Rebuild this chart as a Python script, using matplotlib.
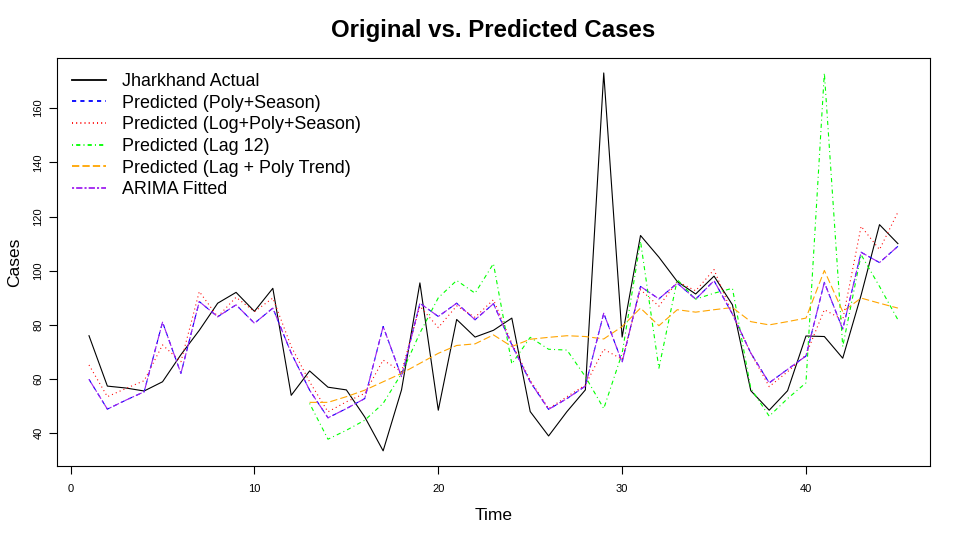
import numpy as np
import matplotlib
matplotlib.use('Agg')
import matplotlib.pyplot as plt

plt.rcParams['font.family'] = ['Liberation Sans', 'DejaVu Sans']
plt.rcParams['lines.scale_dashes'] = False

time = np.arange(1, 46)

actual = [76, 57.4, 56.7, 55.6, 59, 69, 78, 88, 92, 85, 93.5, 54, 63, 57, 56,
          46, 33.5, 56, 95.5, 48.5, 82, 75.5, 78, 82.5, 48, 39, 48, 56, 173,
          75.5, 113, 105, 96, 91.4, 98, 87.4, 55.7, 48.5, 55.7, 75.9, 75.7,
          67.7, 91, 117, 110]

poly_season = [59.9, 48.9, 52.2, 55.3, 81, 62.1, 88.6, 83, 87.4, 80.6, 86.2,
               69.6, 55.9, 45.7, 49.1, 52.8, 79.4, 60.9, 88, 83.1, 88, 81.9,
               87.8, 72.6, 59, 48.8, 52.8, 57.4, 84.3, 66.2, 94.2, 89.6, 95.4,
               89.5, 96.3, 84, 69.6, 58.6, 63.6, 68.5, 95.7, 78.4, 106.8, 103,
               109]

log_poly_season = [65.2, 53.5, 56.5, 59.4, 72.6, 66.4, 92.3, 83, 90.2, 84.9,
                   89.9, 72, 59, 47.9, 51.6, 54.7, 67, 62.7, 86.9, 79, 87,
                   82.8, 89.3, 73.2, 59.6, 49.1, 53.5, 57.8, 71, 67.3, 93,
                   86.9, 96, 92.6, 100.4, 84, 69.6, 57.2, 62.7, 68.9, 85.6,
                   81.9, 116.4, 107.8, 121.6]

lag12 = [np.nan] * 12 + [51, 37.8, 41.1, 44.8, 51, 62, 77, 90, 96.4, 91.7,
                         102.6, 65.6, 75.4, 71, 70.7, 60.9, 49.1, 69.5, 110.9,
                         64, 96.7, 89.5, 91.7, 93.5, 56.5, 46.3, 52.8, 58.6,
                         173, 72, 105.9, 94.2, 81.9]

lag_poly = [np.nan] * 12 + [51.4, 51.4, 53.5, 55.9, 59, 62.1, 65.8, 69.5,
                            72.4, 73, 76.3, 72, 74.7, 75.4, 76, 75.7, 74.8,
                            79.4, 86.2, 79.7, 85.6, 84.7, 85.6, 86.4, 81.2,
                            80, 81.2, 82.5, 100.1, 84.9, 89.9, 88, 86.2]

arima = [59.9, 48.9, 52.2, 55.3, 81, 62.1, 88.6, 83, 87.4, 80.6, 86.2, 69.6,
         55.9, 45.7, 49.1, 52.8, 79.4, 60.9, 88, 83.1, 88, 81.9, 87.8, 72.6,
         59, 48.8, 52.8, 57.4, 84.3, 66.2, 94.2, 89.6, 95.4, 89.5, 96.3, 84,
         69.6, 58.6, 63.6, 68.5, 95.7, 78.4, 106.8, 103, 109]

fig = plt.figure(figsize=(9.6, 5.4), dpi=100)
ax = fig.add_axes([0.059, 0.137, 0.910, 0.756])

lw = 0.8
ax.plot(time, actual, color='black', lw=lw, label='Jharkhand Actual')
ax.plot(time, poly_season, color='blue', lw=lw, ls=(0, (3, 3)),
        label='Predicted (Poly+Season)')
ax.plot(time, log_poly_season, color='red', lw=lw, ls=(0, (0.75, 2.25)),
        label='Predicted (Log+Poly+Season)')
ax.plot(time, lag12, color='#00ff00', lw=lw, ls=(0, (0.75, 2.25, 3, 2.25)),
        label='Predicted (Lag 12)')
ax.plot(time, lag_poly, color='orange', lw=lw, ls=(0, (5.25, 2.25)),
        label='Predicted (Lag + Poly Trend)')
ax.plot(time, arima, color='#a020f0', lw=lw, ls=(0, (1.5, 1.5, 4.5, 1.5)),
        label='ARIMA Fitted')

ax.set_xlim(-0.76, 46.76)
ax.set_ylim(27.9, 178.6)
ax.set_xticks([0, 10, 20, 30, 40])
ax.set_yticks([40, 60, 80, 100, 120, 140, 160])
ax.tick_params(labelsize=8, length=6, width=0.8)
ax.tick_params(axis='x', pad=7)
for lab in ax.get_yticklabels():
    lab.set_rotation(90)
    lab.set_va('center')
for sp in ax.spines.values():
    sp.set_linewidth(0.8)

ax.set_xlabel('Time', fontsize=12.5, labelpad=10)
ax.set_ylabel('Cases', fontsize=12.5, labelpad=8)
ax.set_title('Original vs. Predicted Cases', fontsize=17.3, fontweight='bold',
             pad=15)

leg = ax.legend(loc='upper left', frameon=False, fontsize=12.9,
                handlelength=1.9, handletextpad=0.9, labelspacing=0.26,
                borderaxespad=0.45)
for h in leg.get_lines():
    h.set_linewidth(1.3)

fig.savefig('out.png', dpi=100)
